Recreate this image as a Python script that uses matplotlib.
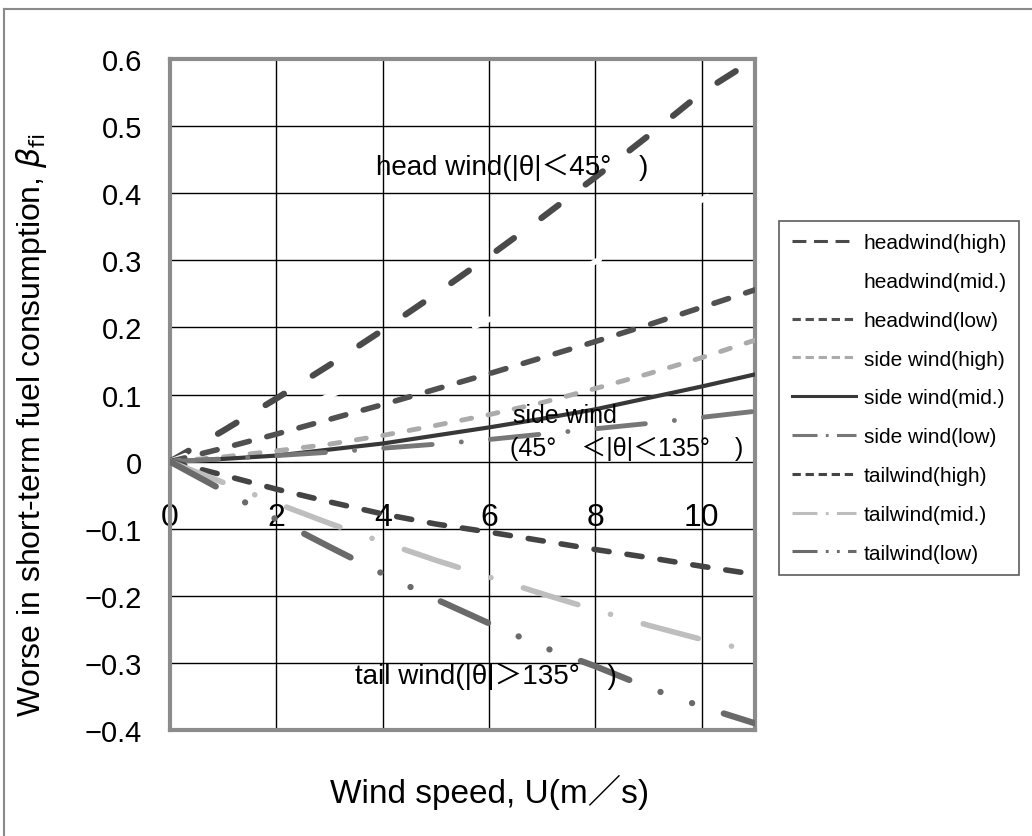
import matplotlib
matplotlib.use("Agg")
import matplotlib.pyplot as plt
from matplotlib.lines import Line2D
import numpy as np

plt.rcParams['font.family'] = ['Liberation Sans', 'Noto Sans CJK JP', 'DejaVu Sans']
plt.rcParams['lines.scale_dashes'] = False

# wind speed (m/s)
wind = [0, 1, 2, 3, 4, 5, 6, 7, 8, 9, 10, 11]

head_high = [0, 0.046, 0.094, 0.144, 0.196, 0.250, 0.306, 0.364, 0.424, 0.486, 0.550, 0.600]
head_mid = [0, 0.031, 0.064, 0.098, 0.134, 0.173, 0.212, 0.254, 0.298, 0.343, 0.390, 0.439]
head_low = [0, 0.020, 0.041, 0.063, 0.085, 0.108, 0.131, 0.155, 0.179, 0.204, 0.230, 0.256]
side_high = [0, 0.007, 0.016, 0.026, 0.039, 0.054, 0.070, 0.088, 0.109, 0.131, 0.155, 0.181]
side_mid = [0, 0.004, 0.009, 0.018, 0.027, 0.039, 0.051, 0.064, 0.078, 0.095, 0.112, 0.130]
side_low = [0, 0.004, 0.009, 0.014, 0.020, 0.026, 0.033, 0.041, 0.049, 0.057, 0.066, 0.075]
tail_high = [0, -0.020, -0.041, -0.060, -0.078, -0.093, -0.105, -0.118, -0.131, -0.143, -0.156, -0.168]
tail_mid = [0, -0.031, -0.062, -0.092, -0.120, -0.147, -0.172, -0.197, -0.221, -0.244, -0.265, -0.283]
tail_low = [0, -0.043, -0.086, -0.127, -0.167, -0.205, -0.241, -0.276, -0.305, -0.337, -0.365, -0.390]

labels = ['headwind(high)', 'headwind(mid.)', 'headwind(low)',
          'side wind(high)', 'side wind(mid.)', 'side wind(low)',
          'tailwind(high)', 'tailwind(mid.)', 'tailwind(low)']

# (colour, width, dashes in plot, dashes in legend)
styles = [
    ('#4a4a4a', 4.5, (15.5, 24.5), (10, 5.5)),
    ('white', 4.0, (12, 18), (10, 5.5)),
    ('#505050', 4.0, (11, 13), (6, 3.4)),
    ('#ababab', 3.5, (7.3, 12), (6, 3.4)),
    ('#383838', 3.0, None, None),
    ('#777777', 3.5, (35, 21, 0.1, 21), (18, 6, 2, 6)),
    ('#444444', 4.0, (11, 13), (6, 3.4)),
    ('#bebebe', 4.0, (41, 24.5, 0.1, 24.5), (18, 6, 2, 6)),
    ('#6a6a6a', 4.5, (37.5, 24, 0.1, 24, 0.1, 24), (18, 6, 2, 6, 2, 6)),
]
series = [head_high, head_mid, head_low, side_high, side_mid, side_low,
          tail_high, tail_mid, tail_low]

fig = plt.figure(figsize=(10.32, 8.37), dpi=100)
ax = fig.add_axes([0.1647, 0.1266, 0.5669, 0.8017])

for vals, (c, w, d, _) in zip(series, styles):
    ln, = ax.plot(wind, vals, color=c, lw=w, solid_capstyle='round',
                  dash_capstyle='round', zorder=3)
    if d is not None:
        ln.set_dashes(d)

ax.set_xlim(0, 11)
ax.set_ylim(-0.4, 0.6)
ax.set_yticks(np.arange(-0.4, 0.61, 0.1))
ax.set_yticklabels(['−0.4', '−0.3', '−0.2', '−0.1', '0', '0.1', '0.2', '0.3', '0.4', '0.5', '0.6'],
                   fontsize=21)
ax.set_xticks([0, 2, 4, 6, 8, 10])
ax.tick_params(axis='both', length=0)
ax.tick_params(axis='y', pad=20)
ax.set_xticklabels([])
ax.grid(True, color='black', lw=1.0, zorder=1)
for s in ax.spines.values():
    s.set_color('#8c8c8c')
    s.set_linewidth(3)

# x tick labels hang under the zero line
sec = ax.secondary_xaxis(0.4)
sec.set_xticks([0, 2, 4, 6, 8, 10])
sec.set_xticklabels(['0', '2', '4', '6', '8', '10'], fontsize=23)
sec.tick_params(length=0, pad=29)
sec.spines['bottom'].set_visible(False)

ax.text(3.87, 0.44, 'head wind(|θ|＜45°\u3000)', fontsize=20, va='center', zorder=4)
ax.text(6.45, 0.069, 'side wind', fontsize=18, va='center', zorder=4)
ax.text(6.40, 0.021, '(45°\u3000＜|θ|＜135°\u3000)', fontsize=18, va='center', zorder=4)
ax.text(3.48, -0.319, 'tail wind(|θ|＞135°\u3000)', fontsize=20, va='center', zorder=4)

fig.text(0.474, 0.053, 'Wind speed, U(m／s)', fontsize=24, ha='center', va='center')
fig.text(0.031, 0.492, 'Worse in short-term fuel consumption, $\\beta_{\\rm fi}$', fontsize=23,
         rotation=90, ha='center', va='center')

handles = []
for (c, w, d, ld) in styles:
    h = Line2D([], [], color=c, lw=2.2)
    if ld is not None:
        h.set_dashes(ld)
    handles.append(h)
leg = fig.legend(handles, labels, loc='upper left', bbox_to_anchor=(0.755, 0.735),
                 fontsize=15, frameon=True, fancybox=False, handlelength=3.1,
                 labelspacing=0.95, handletextpad=0.35, borderpad=0.6, borderaxespad=0)
leg.get_frame().set_edgecolor('#333333')
leg.get_frame().set_linewidth(1.2)

# outer frame of the figure panel
fig.add_artist(Line2D([0.004, 0.004], [0, 0.988], color='#8a8a8a', lw=1.5))
fig.add_artist(Line2D([0.004, 1.0], [0.988, 0.988], color='#8a8a8a', lw=1.5))

fig.savefig('out.png', dpi=100)
